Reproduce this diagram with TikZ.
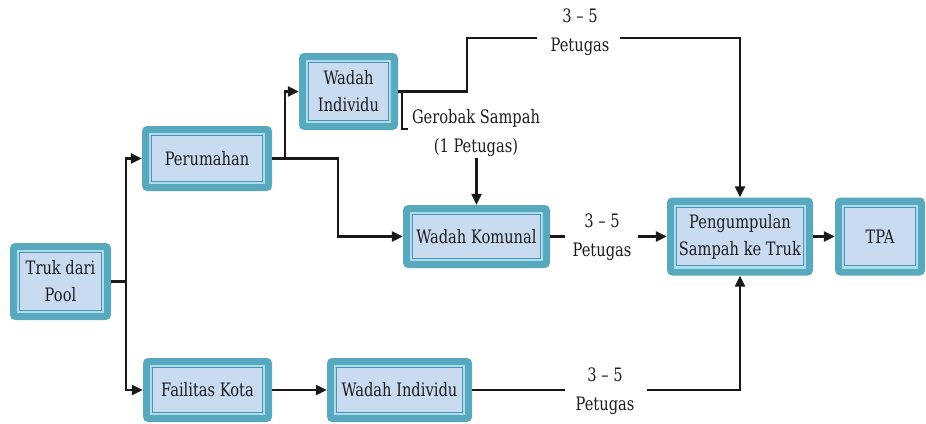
\documentclass[tikz,border=0pt]{standalone}
\usepackage{fontspec}
\newfontfamily\figfont[FakeStretch=0.88]{DejaVu Serif Condensed}
\usetikzlibrary{arrows.meta}
\definecolor{tealout}{HTML}{58A8BE}
\definecolor{cyanband}{HTML}{A8DEEF}
\definecolor{innerline}{HTML}{4F93AE}
\definecolor{boxfill}{HTML}{C9DBF1}
\definecolor{txt}{HTML}{1C1C1C}
\begin{document}
\begin{tikzpicture}[x=1pt,y=-1pt,
  box/.style={rectangle, rounded corners=5pt, fill=tealout, text=txt, align=center,
    inner sep=0pt, font=\figfont\fontsize{18.5}{27}\selectfont,
    path picture={
      \fill[cyanband, sharp corners] ([shift={(7pt,-7pt)}]path picture bounding box.north west) rectangle ([shift={(-7pt,7pt)}]path picture bounding box.south east);
      \draw[innerline, fill=boxfill, line width=1.2pt, sharp corners] ([shift={(9.8pt,-9.8pt)}]path picture bounding box.north west) rectangle ([shift={(-9.8pt,9.8pt)}]path picture bounding box.south east);
    }},
  lab/.style={text=txt, align=center, inner sep=1pt, font=\figfont\fontsize{18.5}{29}\selectfont},
  conn/.style={draw=black!90, line width=2.3pt},
  arr/.style={conn, -{Triangle[length=11pt,width=10pt]}}
]
\useasboundingbox (0,0) rectangle (926,423);

\node[box, minimum width=101pt, minimum height=77pt] (truk) at (60.5,281.5) {Truk dari\\Pool};
\node[box, minimum width=130pt, minimum height=65pt] (per) at (207,158.5) {Perumahan};
\node[box, minimum width=99pt, minimum height=77pt] (wi1) at (348.5,91.5) {Wadah\\Individu};
\node[box, minimum width=147pt, minimum height=63pt] (kom) at (476.5,236.5) {Wadah Komunal};
\node[box, minimum width=146pt, minimum height=78pt] (pk) at (740,236.5) {Pengumpulan\\Sampah ke Truk};
\node[box, minimum width=90pt, minimum height=78pt] (tpa) at (880,236.5) {TPA};
\node[box, minimum width=129pt, minimum height=64pt] (fk) at (207.5,390) {Failitas Kota};
\node[box, minimum width=145pt, minimum height=64pt] (wi2) at (399.5,390) {Wadah Individu};

\node[lab] (lt) at (580,32) {3 – 5\\Petugas};
\node[lab] (lm) at (602,237) {3 – 5\\Petugas};
\node[lab] (lb) at (605,391) {3 – 5\\Petugas};
\node[lab] (lg) at (476,133) {Gerobak Sampah\\(1 Petugas)};

% trunk from Truk
\draw[conn] (truk.east) -- ++(14.5,0) coordinate (trunk);
\draw[arr] (trunk) |- (per.west);
\draw[arr] (trunk) |- (fk.west);

% Perumahan branches
\draw[conn] (per.east) -- ++(13,0) coordinate (pj);
\draw[arr] (pj) |- (wi1.west);
\draw[arr] (pj) -- ++(53,0) |- (kom.west);

% top route
\coordinate (topL) at (537,38);
\coordinate (topR) at (620,38);
\draw[conn] (wi1.east) -- ++(68.5,0) |- (topL);
\draw[arr] (topR) -| (pk.north);
% bracket
\draw[conn] ([xshift=4pt]wi1.east) -- ++(0,37.5) -- ++(6,0);

% gerobak arrow
\draw[arr] (lg.south -| kom.north) -- (kom.north);

% middle route
\draw[conn] (kom.east) -- ++(15,0) coordinate (mL);
\coordinate (mR) at (638,236.5);
\draw[arr] (mR) -- (pk.west);

% to TPA
\draw[arr] (pk.east) -- (tpa.west);

% bottom route
\draw[arr] (fk.east) -- (wi2.west);
\coordinate (bL) at (565,390);
\coordinate (bR) at (647,390);
\draw[conn] (wi2.east) -- (bL);
\draw[arr] (bR) -| (pk.south);
\end{tikzpicture}
\end{document}
